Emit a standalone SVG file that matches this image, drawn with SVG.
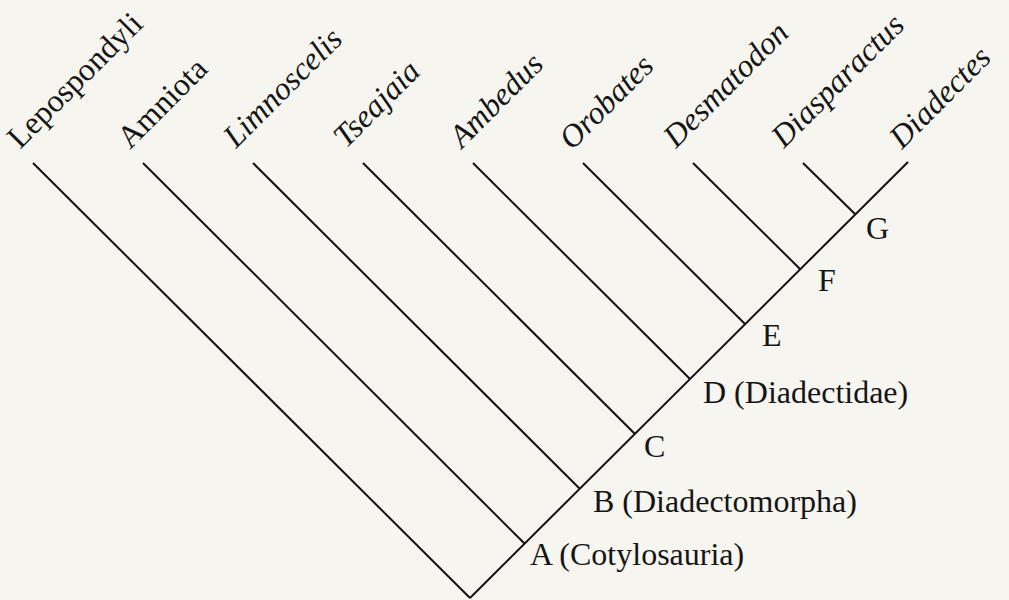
<svg xmlns="http://www.w3.org/2000/svg" width="1009" height="600" viewBox="0 0 1009 600">
<style>
.ln{stroke:#111;stroke-width:2;fill:none;stroke-linecap:butt}
.lb{font-family:"Liberation Serif","Times New Roman",serif;font-size:32px;fill:#151515}
.it{font-style:italic}
</style>
<rect width="1009" height="600" fill="#f6f5f0"/>
<g id="connectors">
<line class="ln" x1="470" y1="598" x2="908" y2="162"/>
<line class="ln" x1="33" y1="163" x2="470" y2="598"/>
<line class="ln" x1="143" y1="163" x2="525" y2="544"/>
<line class="ln" x1="253" y1="163" x2="580" y2="489"/>
<line class="ln" x1="363" y1="163" x2="635" y2="434"/>
<line class="ln" x1="473" y1="163" x2="690" y2="379"/>
<line class="ln" x1="583" y1="163" x2="745" y2="324"/>
<line class="ln" x1="693" y1="163" x2="800" y2="269"/>
<line class="ln" x1="803" y1="163" x2="855" y2="214"/>
</g>
<g id="tip-Lepospondyli"><text class="lb" transform="translate(20,150) rotate(-45)">Lepospondyli</text></g>
<g id="tip-Amniota"><text class="lb" transform="translate(130,150) rotate(-45)">Amniota</text></g>
<g id="tip-Limnoscelis"><text class="lb it" transform="translate(236,149) rotate(-45)">Limnoscelis</text></g>
<g id="tip-Tseajaia"><text class="lb it" transform="translate(346,149) rotate(-45)">Tseajaia</text></g>
<g id="tip-Ambedus"><text class="lb it" transform="translate(462,149) rotate(-45)">Ambedus</text></g>
<g id="tip-Orobates"><text class="lb it" transform="translate(572,151) rotate(-45)">Orobates</text></g>
<g id="tip-Desmatodon"><text class="lb it" transform="translate(676,149) rotate(-45)">Desmatodon</text></g>
<g id="tip-Diasparactus"><text class="lb it" transform="translate(784,149) rotate(-45)">Diasparactus</text></g>
<g id="tip-Diadectes"><text class="lb it" transform="translate(902,150) rotate(-45)">Diadectes</text></g>
<g id="node-A"><text class="lb" x="530" y="565">A (Cotylosauria)</text></g>
<g id="node-B"><text class="lb" x="593" y="512">B (Diadectomorpha)</text></g>
<g id="node-C"><text class="lb" x="644" y="457">C</text></g>
<g id="node-D"><text class="lb" x="703" y="403">D (Diadectidae)</text></g>
<g id="node-E"><text class="lb" x="762" y="346">E</text></g>
<g id="node-F"><text class="lb" x="818" y="291">F</text></g>
<g id="node-G"><text class="lb" x="866" y="239">G</text></g>
</svg>
